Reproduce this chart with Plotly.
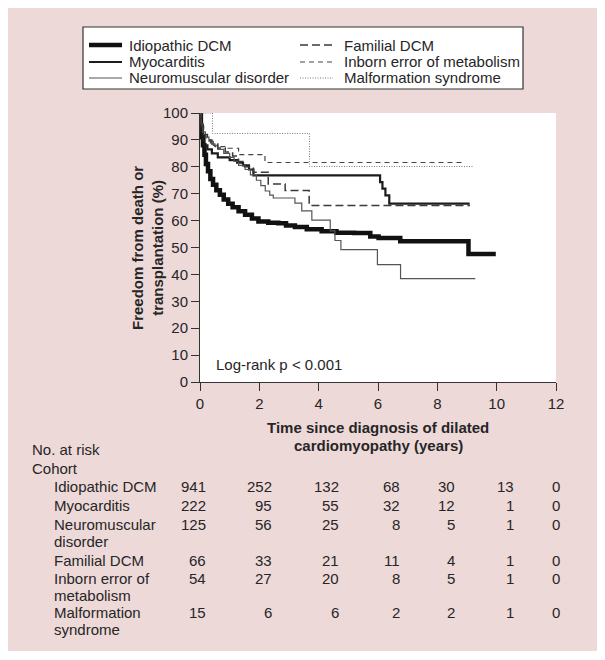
import plotly.graph_objects as go

# Kaplan-Meier curves (years, % free from death/transplant)
idiopathic_t = [0, 0.03, 0.06, 0.10, 0.15, 0.20, 0.27, 0.35, 0.44, 0.55, 0.67, 0.80, 0.95, 1.10, 1.30,
                1.52, 1.75, 1.97, 2.30, 2.64, 2.90, 3.20, 3.60, 4.10, 4.60, 5.20, 5.74, 6.02, 6.75, 9.05, 9.97]
idiopathic_s = [100, 95, 91, 88, 84.5, 81, 78.3, 75.5, 73.3, 71.3, 69.6, 67.8, 66.3, 65.0, 63.5,
                62.2, 60.8, 59.7, 59.2, 59.0, 58.2, 57.6, 56.8, 56.0, 55.5, 55.4, 54.1, 53.5, 52.3, 47.6, 47.6]

myocarditis_t = [0, 0.03, 0.08, 0.15, 0.25, 0.40, 0.60, 1.00, 1.25, 1.45, 1.65, 1.80, 6.07, 6.15, 6.25, 6.38, 9.09]
myocarditis_s = [100, 93, 90, 88, 86.5, 85, 83.5, 82.5, 81.5, 80.5, 79, 76.8, 74.3, 71.9, 69.4, 66.3, 66.3]

neuromuscular_t = [0, 0.04, 0.10, 0.18, 0.30, 0.45, 0.60, 0.80, 1.00, 1.15, 1.30, 1.52, 1.70, 1.90, 2.05,
                   2.20, 2.35, 2.47, 3.20, 3.43, 3.77, 4.39, 4.55, 4.75, 5.98, 6.76, 9.28]
neuromuscular_s = [100, 96, 93, 91, 89.5, 88, 86.5, 85, 83.5, 82, 80.5, 79, 77, 75, 73,
                   71, 69.5, 68.4, 66.5, 63.6, 60.2, 56.2, 52.6, 49.2, 43.6, 38.4, 38.4]

familial_t = [0, 0.05, 0.12, 0.25, 0.40, 0.60, 0.85, 1.10, 1.30, 1.50, 1.80, 2.30, 2.87, 3.68, 9.10]
familial_s = [100, 95, 92, 90, 88.5, 87, 85.5, 84, 82, 80, 78, 73.6, 71.2, 65.6, 65.6]

inborn_t = [0, 0.04, 0.10, 0.20, 0.35, 0.50, 0.95, 1.30, 2.19, 8.88]
inborn_s = [100, 96, 92, 90, 88.5, 87.5, 86.9, 84.5, 81.6, 81.6]

malformation_t = [0, 0.42, 3.69, 9.22]
malformation_s = [100, 92.4, 80.1, 80.1]

# numbers at risk
risk_times = [0, 2, 4, 6, 8, 10, 12]
risk_idiopathic = [941, 252, 132, 68, 30, 13, 0]
risk_myocarditis = [222, 95, 55, 32, 12, 1, 0]
risk_neuromuscular = [125, 56, 25, 8, 5, 1, 0]
risk_familial = [66, 33, 21, 11, 4, 1, 0]
risk_inborn = [54, 27, 20, 8, 5, 1, 0]
risk_malformation = [15, 6, 6, 2, 2, 1, 0]

# page body has an 8px margin, so the figure is 8px smaller and all
# positions below are given in window pixels
OFF = 8
W, H = 605 - OFF, 660 - OFF
PLOT_L, PLOT_R, PLOT_T, PLOT_B = 200, 556, 113, 382
PW, PH = PLOT_R - PLOT_L, PLOT_B - PLOT_T
FONT = "Liberation Sans, Arial, sans-serif"
TXT = "#262626"


def px_x(px):
    return (px - PLOT_L) / PW


def px_y(py):
    return (PLOT_B - py) / PH


series = [
    dict(name="Idiopathic DCM", t=idiopathic_t, s=idiopathic_s, risk=risk_idiopathic,
         label=["Idiopathic DCM"], line=dict(color="#111111", width=4.5)),
    dict(name="Myocarditis", t=myocarditis_t, s=myocarditis_s, risk=risk_myocarditis,
         label=["Myocarditis"], line=dict(color="#1c1c1c", width=2.2)),
    dict(name="Neuromuscular disorder", t=neuromuscular_t, s=neuromuscular_s, risk=risk_neuromuscular,
         label=["Neuromuscular", "disorder"], line=dict(color="#555555", width=1.2)),
    dict(name="Familial DCM", t=familial_t, s=familial_s, risk=risk_familial,
         label=["Familial DCM"], line=dict(color="#3a3a3a", width=1.5, dash="8px,4px")),
    dict(name="Inborn error of metabolism", t=inborn_t, s=inborn_s, risk=risk_inborn,
         label=["Inborn error of", "metabolism"], line=dict(color="#444444", width=1.2, dash="5px,4px")),
    dict(name="Malformation syndrome", t=malformation_t, s=malformation_s, risk=risk_malformation,
         label=["Malformation", "syndrome"], line=dict(color="#777777", width=1, dash="1px,1.5px")),
]

fig = go.Figure()
for sr in series:
    fig.add_trace(go.Scatter(
        x=sr["t"], y=sr["s"], mode="lines", name=sr["name"],
        line=dict(shape="hv", **sr["line"]), showlegend=False,
    ))

shapes = [
    # pink panel and white plotting area
    dict(type="rect", xref="paper", yref="paper", x0=px_x(7), x1=px_x(597), y0=px_y(651), y1=px_y(7),
         fillcolor="#eed9d9", line=dict(width=0), layer="below"),
    dict(type="rect", xref="x", yref="y", x0=0, x1=12, y0=0, y1=100,
         fillcolor="white", line=dict(width=0), layer="below"),
    # legend box
    dict(type="rect", xref="paper", yref="paper", x0=px_x(83), x1=px_x(523), y0=px_y(89), y1=px_y(27),
         fillcolor="white", line=dict(color="#333333", width=1.2), layer="below"),
]
annotations = []

# legend entries, two columns of three
leg_rows = [45, 62, 78]
leg_cols = [(89, 122, 127), (300, 333, 342)]
for i, sr in enumerate(series):
    x0, x1, xt = leg_cols[i // 3]
    yy = leg_rows[i % 3]
    shapes.append(dict(type="line", xref="paper", yref="paper", x0=px_x(x0), x1=px_x(x1),
                       y0=px_y(yy), y1=px_y(yy), line=sr["line"]))
    annotations.append(dict(text=sr["name"], xref="paper", yref="paper", x=px_x(xt), y=px_y(yy),
                            xanchor="left", yanchor="middle", showarrow=False,
                            font=dict(size=15, color=TXT)))

annotations += [
    dict(text="Log-rank p < 0.001", xref="paper", yref="paper", x=px_x(214), y=px_y(364),
         xanchor="left", yanchor="middle", showarrow=False, font=dict(size=15, color=TXT)),
    dict(text="<b>Freedom from death or<br>transplantation (%)</b>", xref="paper", yref="paper",
         x=px_x(147), y=px_y(248), xanchor="center", yanchor="middle", textangle=-90,
         showarrow=False, font=dict(size=15, color=TXT)),
    dict(text="<b>Time since diagnosis of dilated</b>", xref="paper", yref="paper",
         x=px_x(378), y=px_y(427), xanchor="center", yanchor="middle", showarrow=False,
         font=dict(size=15, color=TXT)),
    dict(text="<b>cardiomyopathy (years)</b>", xref="paper", yref="paper",
         x=px_x(378), y=px_y(445), xanchor="center", yanchor="middle", showarrow=False,
         font=dict(size=15, color=TXT)),
    dict(text="No. at risk", xref="paper", yref="paper", x=px_x(30), y=px_y(449),
         xanchor="left", yanchor="middle", showarrow=False, font=dict(size=15, color=TXT)),
    dict(text="Cohort", xref="paper", yref="paper", x=px_x(30), y=px_y(468),
         xanchor="left", yanchor="middle", showarrow=False, font=dict(size=15, color=TXT)),
]

# numbers-at-risk table
row_y = [486, 505, 524, 560, 578, 612]
col_right = [208, 274, 341, 402, 457, 516, 562]
for sr, yy in zip(series, row_y):
    for k, line in enumerate(sr["label"]):
        annotations.append(dict(text=line, xref="paper", yref="paper", x=px_x(52), y=px_y(yy + 17.5 * k),
                                xanchor="left", yanchor="middle", showarrow=False,
                                font=dict(size=15, color=TXT)))
    for n, xr in zip(sr["risk"], col_right):
        annotations.append(dict(text=str(n), xref="paper", yref="paper", x=px_x(xr), y=px_y(yy),
                                xanchor="right", yanchor="middle", showarrow=False,
                                font=dict(size=15, color=TXT)))

axis_common = dict(showline=True, linecolor="#333333", linewidth=1, ticks="outside", ticklen=8,
                   tickcolor="#333333", tickwidth=1, showgrid=False, zeroline=False,
                   tickfont=dict(size=15, color=TXT))

fig.update_layout(
    width=W, height=H,
    margin=dict(l=PLOT_L - OFF, r=W - (PLOT_R - OFF), t=PLOT_T - OFF, b=H - (PLOT_B - OFF),
                autoexpand=False),
    paper_bgcolor="white", plot_bgcolor="white",
    font=dict(family=FONT, color=TXT),
    xaxis=dict(range=[0, 12], tickvals=risk_times, **axis_common),
    yaxis=dict(range=[0, 100], dtick=10, **axis_common),
    shapes=shapes, annotations=annotations, showlegend=False,
)

fig.write_html("out.html")
